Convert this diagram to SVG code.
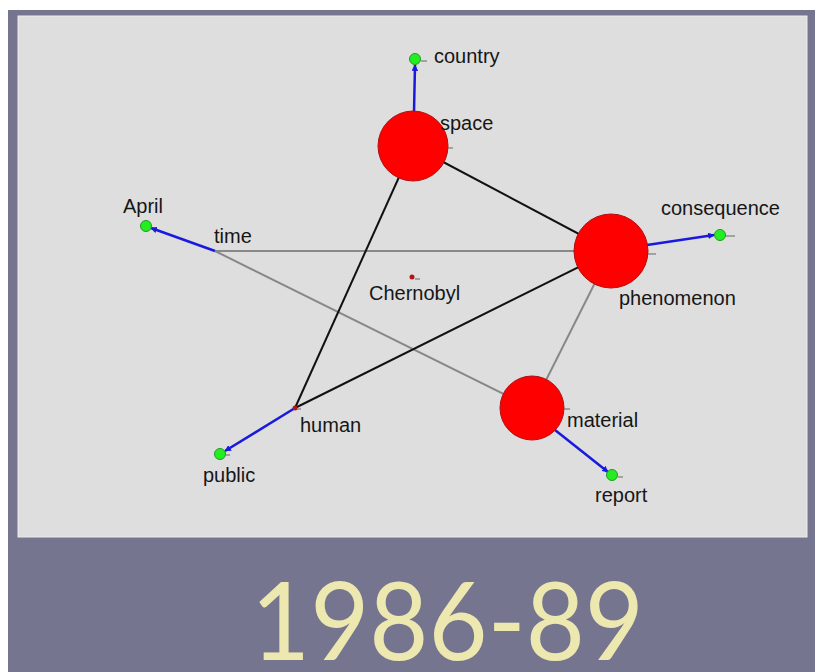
<svg xmlns="http://www.w3.org/2000/svg" width="815" height="672" viewBox="0 0 815 672">
  <style>
    .lbl { font-family: "Liberation Sans", Arial, sans-serif; font-size: 20px; fill: #161616; }
    .hub { fill: #ff0000; stroke: #b01010; stroke-width: 1; }
    .leaf { fill: #22ee22; stroke: #229922; stroke-width: 1; }
    .tick { stroke: #666; stroke-width: 1; }
    .e-strong { stroke: #111; stroke-width: 2; fill: none; }
    .e-weak { stroke: #888; stroke-width: 2; fill: none; }
    .e-link { stroke: #1a1adf; stroke-width: 2.5; fill: none; marker-end: url(#tip); }
    .title { font-family: "Lato", "Liberation Sans", sans-serif; font-weight: 400; font-size: 108px; fill: #ece8b0; }
  </style>
  <defs>
    <marker id="tip" viewBox="0 0 10 10" refX="9" refY="5" markerWidth="2.6" markerHeight="2.6" orient="auto">
      <path d="M0,0 L10,5 L0,10 z" fill="#1a1adf"/>
    </marker>
  </defs>

  <!-- frame -->
  <rect x="0" y="0" width="815" height="672" fill="#ffffff"/>
  <rect x="8" y="10" width="807" height="662" fill="#76758f"/>
  <rect x="18" y="16" width="789" height="521" fill="#dedede" stroke="#ececec" stroke-width="1"/>

  <!-- connectors -->
  <g id="connectors">
    <line class="e-weak" x1="215" y1="251" x2="611" y2="251"/>
    <line class="e-weak" x1="215" y1="251" x2="532" y2="408"/>
    <line class="e-weak" x1="611" y1="251" x2="532" y2="408"/>
    <line class="e-strong" x1="413" y1="146" x2="611" y2="251"/>
    <line class="e-strong" x1="413" y1="146" x2="295" y2="408"/>
    <line class="e-strong" x1="295" y1="408" x2="611" y2="251"/>
    <line class="e-link" x1="414" y1="112" x2="415" y2="65"/>
    <line class="e-link" x1="647" y1="245" x2="714" y2="235"/>
    <line class="e-link" x1="555" y1="430" x2="608" y2="472"/>
    <line class="e-link" x1="295" y1="408" x2="225" y2="451"/>
    <line class="e-link" x1="215" y1="251" x2="151" y2="228"/>
  </g>

  <!-- nodes -->
  <g id="node-space">
    <circle class="hub" cx="413" cy="146" r="35"/>
    <line class="tick" x1="448" y1="148" x2="453" y2="148"/>
    <text class="lbl" x="440" y="130">space</text>
  </g>
  <g id="node-phenomenon">
    <circle class="hub" cx="611" cy="251" r="37"/>
    <line class="tick" x1="648" y1="254" x2="656" y2="254"/>
    <text class="lbl" x="619" y="305">phenomenon</text>
  </g>
  <g id="node-material">
    <circle class="hub" cx="532" cy="408" r="32"/>
    <line class="tick" x1="564" y1="409" x2="570" y2="409"/>
    <text class="lbl" x="567" y="427">material</text>
  </g>
  <g id="node-human">
    <circle cx="295" cy="408" r="2.5" fill="#b01818"/>
    <line class="tick" x1="297" y1="409" x2="301" y2="409"/>
    <text class="lbl" x="300" y="432">human</text>
  </g>
  <g id="node-time">
    <text class="lbl" x="214" y="243">time</text>
  </g>
  <g id="node-chernobyl">
    <circle cx="412" cy="277" r="2.5" fill="#b01818"/>
    <line class="tick" x1="415" y1="279" x2="420" y2="279"/>
    <text class="lbl" x="369" y="300">Chernobyl</text>
  </g>
  <g id="node-country">
    <circle class="leaf" cx="415" cy="59" r="5.5"/>
    <line class="tick" x1="421" y1="61" x2="427" y2="61"/>
    <text class="lbl" x="434" y="63">country</text>
  </g>
  <g id="node-consequence">
    <circle class="leaf" cx="720" cy="235" r="5.5"/>
    <line class="tick" x1="726" y1="236" x2="735" y2="236"/>
    <text class="lbl" x="661" y="215">consequence</text>
  </g>
  <g id="node-report">
    <circle class="leaf" cx="612" cy="475" r="5.5"/>
    <line class="tick" x1="618" y1="477" x2="623" y2="477"/>
    <text class="lbl" x="595" y="502">report</text>
  </g>
  <g id="node-public">
    <circle class="leaf" cx="220" cy="454" r="5.5"/>
    <line class="tick" x1="226" y1="455" x2="230" y2="455"/>
    <text class="lbl" x="203" y="482">public</text>
  </g>
  <g id="node-april">
    <circle class="leaf" cx="146" cy="226" r="5.5"/>
    <text class="lbl" x="123" y="213">April</text>
  </g>

  <!-- period caption -->
  <text class="title" x="251" y="660" textLength="393" lengthAdjust="spacingAndGlyphs">1986-89</text>
</svg>
